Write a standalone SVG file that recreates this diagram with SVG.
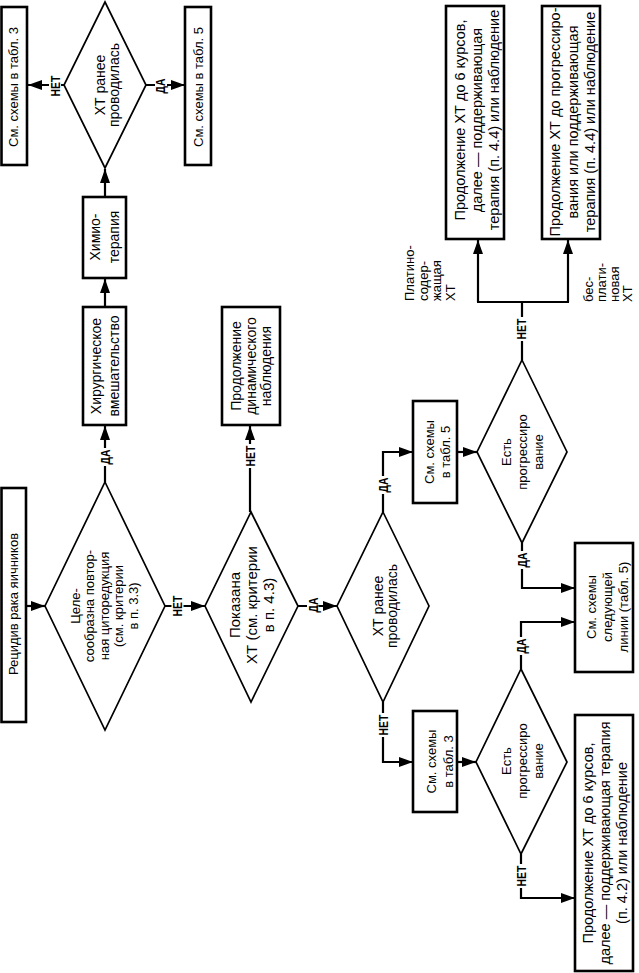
<svg xmlns="http://www.w3.org/2000/svg" width="639" height="973" viewBox="0 0 639 973">
<defs>
<style>
.box{fill:#fff;stroke:#000;stroke-width:2.6}
.dia{fill:#fff;stroke:#000;stroke-width:1.7}
.con{fill:none;stroke:#000;stroke-width:2.2}
.bg{fill:#fff}
text{font-family:"Liberation Sans",Arial,sans-serif;fill:#000;text-anchor:middle}
.s13{font-size:13px}
.s14{font-size:14px}
.s145{font-size:14.5px}
.s15{font-size:15px}
.lbl{font-size:13px;font-weight:bold}
.st{text-anchor:start}
</style>
<marker id="ah" markerUnits="userSpaceOnUse" viewBox="0 0 14 10" markerWidth="14" markerHeight="10" refX="14" refY="5" orient="auto"><path d="M0,0 L14,5 L0,10 z" fill="#000"/></marker>
</defs>
<rect width="639" height="973" fill="#fff"/>

<g id="connectors">
<path class="con" d="M26,606 H45" marker-end="url(#ah)"/>
<path class="con" d="M105,482 V426" marker-end="url(#ah)"/>
<path class="con" d="M105,307 V279" marker-end="url(#ah)"/>
<path class="con" d="M105,197 V169" marker-end="url(#ah)"/>
<path class="con" d="M64,85 H28" marker-end="url(#ah)"/>
<path class="con" d="M146,85 H185" marker-end="url(#ah)"/>
<path class="con" d="M165,606 H205" marker-end="url(#ah)"/>
<path class="con" d="M250,512 V426" marker-end="url(#ah)"/>
<path class="con" d="M298,606 H337" marker-end="url(#ah)"/>
<path class="con" d="M383,512 V452 H413" marker-end="url(#ah)"/>
<path class="con" d="M457,452 H477" marker-end="url(#ah)"/>
<path class="con" d="M522,360 V302"/>
<path class="con" d="M477,302 H569"/>
<path class="con" d="M478,302 V240" marker-end="url(#ah)"/>
<path class="con" d="M568,302 V240" marker-end="url(#ah)"/>
<path class="con" d="M522,543 V588 H575" marker-end="url(#ah)"/>
<path class="con" d="M383,702 V762 H413" marker-end="url(#ah)"/>
<path class="con" d="M457,762 H476" marker-end="url(#ah)"/>
<path class="con" d="M521,669 V622 H575" marker-end="url(#ah)"/>
<path class="con" d="M521,854 V898 H575" marker-end="url(#ah)"/>
<g id="labels">
<rect class="bg" x="49" y="74" width="12" height="24"/><text class="lbl" transform="translate(59.5,86) rotate(-90) scale(0.8,1)">НЕТ</text>
<rect class="bg" x="155" y="77" width="12" height="18"/><text class="lbl" transform="translate(165,86) rotate(-90) scale(0.8,1)">ДА</text>
<rect class="bg" x="99" y="448" width="12" height="18"/><text class="lbl" transform="translate(109.5,457) rotate(-90) scale(0.8,1)">ДА</text>
<rect class="bg" x="171.5" y="594" width="12" height="24"/><text class="lbl" transform="translate(182,606) rotate(-90) scale(0.8,1)">НЕТ</text>
<rect class="bg" x="244.5" y="444" width="12" height="24"/><text class="lbl" transform="translate(255,456) rotate(-90) scale(0.8,1)">НЕТ</text>
<rect class="bg" x="307" y="596" width="12" height="18"/><text class="lbl" transform="translate(317.5,605) rotate(-90) scale(0.8,1)">ДА</text>
<rect class="bg" x="377.5" y="476" width="12" height="18"/><text class="lbl" transform="translate(388,485) rotate(-90) scale(0.8,1)">ДА</text>
<rect class="bg" x="515.5" y="317" width="12" height="24"/><text class="lbl" transform="translate(526,329) rotate(-90) scale(0.8,1)">НЕТ</text>
<rect class="bg" x="516" y="551" width="12" height="18"/><text class="lbl" transform="translate(526.5,560) rotate(-90) scale(0.8,1)">ДА</text>
<rect class="bg" x="377.5" y="713" width="12" height="24"/><text class="lbl" transform="translate(388,725) rotate(-90) scale(0.8,1)">НЕТ</text>
<rect class="bg" x="515" y="637" width="12" height="18"/><text class="lbl" transform="translate(525.5,646) rotate(-90) scale(0.8,1)">ДА</text>
<rect class="bg" x="515" y="864" width="12" height="24"/><text class="lbl" transform="translate(525.5,876) rotate(-90) scale(0.8,1)">НЕТ</text>
<text class="s13 st" transform="translate(414,301) rotate(-90)">Платино-</text>
<text class="s13 st" transform="translate(427.5,301) rotate(-90)">содер-</text>
<text class="s13 st" transform="translate(441,301) rotate(-90)">жащая</text>
<text class="s13 st" transform="translate(455,301) rotate(-90)">ХТ</text>
<text class="s13 st" transform="translate(592.5,302) rotate(-90)">бес-</text>
<text class="s13 st" transform="translate(605.5,302) rotate(-90)">плати-</text>
<text class="s13 st" transform="translate(618.5,302) rotate(-90)">новая</text>
<text class="s13 st" transform="translate(631.5,302) rotate(-90)">ХТ</text>
</g>
</g>

<g id="n-recidiv">
<rect class="box" x="1.5" y="488" width="24.5" height="234"/>
<text class="s13" transform="translate(18,604) rotate(-90)">Рецидив рака яичников</text>
</g>

<g id="n-d1">
<polygon class="dia" points="105,482 165,606 105,730 45,606"/>
<text class="s13" transform="translate(79.5,606) rotate(-90)">Целе-</text>
<text class="s13" transform="translate(94,606) rotate(-90)">сообразна повтор-</text>
<text class="s13" transform="translate(108.5,606) rotate(-90)">ная циторедукция</text>
<text class="s13" transform="translate(123,606) rotate(-90)">(см. критерии</text>
<text class="s13" transform="translate(137.5,606) rotate(-90)">в п. 3.3)</text>
</g>

<g id="n-surgery">
<rect class="box" x="83" y="307" width="43" height="118"/>
<text class="s14" transform="translate(101,366) rotate(-90)">Хирургическое</text>
<text class="s14" transform="translate(119,366) rotate(-90)">вмешательство</text>
</g>

<g id="n-chemo">
<rect class="box" x="83" y="197" width="43" height="81"/>
<text class="s14" transform="translate(100,237) rotate(-90)">Химио-</text>
<text class="s14" transform="translate(118.5,237) rotate(-90)">терапия</text>
</g>

<g id="n-dtop">
<polygon class="dia" points="105,2 146,85 105,168 64,85"/>
<text class="s14" transform="translate(104.5,85) rotate(-90)">ХТ ранее</text>
<text class="s14" transform="translate(118.5,85) rotate(-90)">проводилась</text>
</g>

<g id="n-t3top">
<rect class="box" x="1.5" y="7" width="25.5" height="158"/>
<text class="s13" transform="translate(18,87) rotate(-90)">См. схемы в табл. 3</text>
</g>

<g id="n-t5top">
<rect class="box" x="185" y="7" width="26" height="158"/>
<text class="s13" transform="translate(202.5,87) rotate(-90)">См. схемы в табл. 5</text>
</g>

<g id="n-d2">
<polygon class="dia" points="251,512 298,606 251,702 205,606"/>
<text class="s15" transform="translate(240,605) rotate(-90)">Показана</text>
<text class="s15" transform="translate(257,605) rotate(-90)">ХТ (см. критерии</text>
<text class="s15" transform="translate(273.5,605) rotate(-90)">в п. 4.3)</text>
</g>

<g id="n-dyn">
<rect class="box" x="222" y="307" width="58" height="118"/>
<text class="s14" transform="translate(240.5,366) rotate(-90)">Продолжение</text>
<text class="s14" transform="translate(255.5,366) rotate(-90)">динамического</text>
<text class="s14" transform="translate(270.5,366) rotate(-90)">наблюдения</text>
</g>

<g id="n-d3">
<polygon class="dia" points="383,512 429,606 383,702 337,606"/>
<text class="s14" transform="translate(383,606) rotate(-90)">ХТ ранее</text>
<text class="s14" transform="translate(397,606) rotate(-90)">проводилась</text>
</g>

<g id="n-s5">
<rect class="box" x="413" y="401" width="44" height="102"/>
<text class="s13" transform="translate(434,452) rotate(-90)">См. схемы</text>
<text class="s13" transform="translate(450,452) rotate(-90)">в табл. 5</text>
</g>

<g id="n-d4">
<polygon class="dia" points="522,360 567,452 522,543 477,452"/>
<text class="s13" transform="translate(511,452) rotate(-90)">Есть</text>
<text class="s13" transform="translate(527,452) rotate(-90)">прогрессиро</text>
<text class="s13" transform="translate(543,452) rotate(-90)">вание</text>
</g>

<g id="n-p1">
<rect class="box" x="446" y="6" width="58" height="233"/>
<text class="s145" transform="translate(464.5,120) rotate(-90)">Продолжение ХТ до 6 курсов,</text>
<text class="s145" transform="translate(481.5,120) rotate(-90)">далее — поддерживающая</text>
<text class="s145" transform="translate(498.5,120) rotate(-90)">терапия (п. 4.4) или наблюдение</text>
</g>

<g id="n-p2">
<rect class="box" x="542" y="6" width="58" height="233"/>
<text class="s145" transform="translate(560,122) rotate(-90)">Продолжение ХТ до прогрессиро-</text>
<text class="s145" transform="translate(577.5,122) rotate(-90)">вания или поддерживающая</text>
<text class="s145" transform="translate(595,122) rotate(-90)">терапия (п. 4.4) или наблюдение</text>
</g>

<g id="n-next">
<rect class="box" x="575" y="543" width="58" height="129"/>
<text class="s13" transform="translate(596,607) rotate(-90)">См. схемы</text>
<text class="s13" transform="translate(611.5,607) rotate(-90)">следующей</text>
<text class="s13" transform="translate(627.5,607) rotate(-90)">линии (табл. 5)</text>
</g>

<g id="n-s3">
<rect class="box" x="413" y="711" width="44" height="101"/>
<text class="s13" transform="translate(436,761.5) rotate(-90)">См. схемы</text>
<text class="s13" transform="translate(452.5,761.5) rotate(-90)">в табл. 3</text>
</g>

<g id="n-d5">
<polygon class="dia" points="521,669 567,762 521,854 476,762"/>
<text class="s13" transform="translate(511,761) rotate(-90)">Есть</text>
<text class="s13" transform="translate(527,761) rotate(-90)">прогрессиро</text>
<text class="s13" transform="translate(543,761) rotate(-90)">вание</text>
</g>

<g id="n-p3">
<rect class="box" x="575" y="715" width="58" height="256"/>
<text class="s145" transform="translate(593,843) rotate(-90)">Продолжение ХТ до 6 курсов,</text>
<text class="s145" transform="translate(610,843) rotate(-90)">далее — поддерживающая терапия</text>
<text class="s145" transform="translate(627,843) rotate(-90)">(п. 4.2) или наблюдение</text>
</g>
</svg>
